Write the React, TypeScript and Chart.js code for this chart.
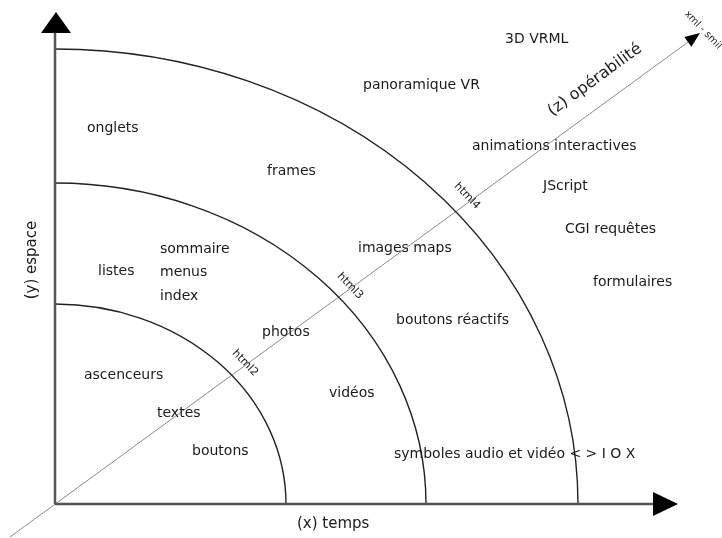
import { useEffect, useRef } from "react";
import { Chart, registerables } from "chart.js";

Chart.register(...registerables);

// Rings (elliptical quarter arcs), in diagram units from the origin
const ringNames = ["html2", "html3", "html4"];
const ringRadiusX = [231, 371, 523];
const ringRadiusY = [200, 321, 455];
const ringLabelX = [190, 295, 412];
const ringLabelY = [141, 218, 308];

// Item labels placed in the (temps, espace) plane
const itemTexts = [
  "onglets", "frames", "sommaire", "menus", "index", "listes", "ascenceurs",
  "photos", "textes", "boutons", "vidéos", "images maps", "boutons réactifs",
  "JScript", "CGI requêtes", "formulaires", "symboles audio et vidéo < > I O X",
  "animations interactives", "3D VRML", "panoramique VR",
];
const itemX = [32, 212, 105, 105, 105, 43, 29, 207, 102, 137, 274, 303, 341, 488, 510, 538, 339, 417, 450, 308];
const itemY = [376, 333, 255, 232, 208, 233, 129, 172, 91, 53, 111, 256, 184, 318, 275, 222, 50, 358, 465, 419];

// Axes
const axisXTitle = "(x) temps";
const axisYTitle = "(y) espace";
const axisZTitle = "(z) opérabilité";
const axisZEndTitle = "xml - smil";
const xAxisEnd = 623;
const yAxisEnd = 492;
const zStart = [-45, -33];
const zEnd = [640, 467];

const FONT = '"DejaVu Sans", sans-serif';

const diagramPlugin = {
  id: "diagram",
  afterDatasetsDraw(chart: any) {
    const ctx = chart.ctx as CanvasRenderingContext2D;
    const xs = chart.scales.x;
    const ys = chart.scales.y;
    const px = (v: number) => xs.getPixelForValue(v);
    const py = (v: number) => ys.getPixelForValue(v);
    const ox = px(0);
    const oy = py(0);
    ctx.save();

    // diagonal z axis
    ctx.strokeStyle = "#8a8a8a";
    ctx.lineWidth = 1;
    ctx.beginPath();
    ctx.moveTo(px(zStart[0]), py(zStart[1]));
    ctx.lineTo(px(zEnd[0]), py(zEnd[1]));
    ctx.stroke();
    // z arrow head
    {
      const tx = px(zEnd[0]) + 5, ty = py(zEnd[1]) - 4;
      const ang = Math.atan2(py(zEnd[1]) - py(zStart[1]), px(zEnd[0]) - px(zStart[0]));
      const L = 15, W = 6;
      const bx = tx - L * Math.cos(ang), by = ty - L * Math.sin(ang);
      ctx.fillStyle = "#000";
      ctx.beginPath();
      ctx.moveTo(tx, ty);
      ctx.lineTo(bx - W * Math.sin(ang), by + W * Math.cos(ang));
      ctx.lineTo(bx + W * Math.sin(ang), by - W * Math.cos(ang));
      ctx.closePath();
      ctx.fill();
    }

    // arcs
    ctx.strokeStyle = "#222";
    ctx.lineWidth = 1.4;
    for (let i = 0; i < ringRadiusX.length; i++) {
      const rx = px(ringRadiusX[i]) - ox;
      const ry = oy - py(ringRadiusY[i]);
      ctx.beginPath();
      ctx.ellipse(ox, oy, rx, ry, 0, -Math.PI / 2, 0);
      ctx.stroke();
    }

    // main axes
    ctx.strokeStyle = "#555";
    ctx.lineWidth = 2.5;
    ctx.beginPath();
    ctx.moveTo(ox, oy);
    ctx.lineTo(px(xAxisEnd) - 20, oy);
    ctx.moveTo(ox, oy);
    ctx.lineTo(ox, py(yAxisEnd) + 18);
    ctx.stroke();

    ctx.fillStyle = "#000";
    // x arrow
    const xt = px(xAxisEnd);
    ctx.beginPath();
    ctx.moveTo(xt, oy);
    ctx.lineTo(xt - 25, oy - 12);
    ctx.lineTo(xt - 25, oy + 12);
    ctx.closePath();
    ctx.fill();
    // y arrow
    const yt = py(yAxisEnd);
    ctx.beginPath();
    ctx.moveTo(ox + 1, yt);
    ctx.lineTo(ox - 14, yt + 21);
    ctx.lineTo(ox + 16, yt + 21);
    ctx.closePath();
    ctx.fill();

    // item labels
    ctx.fillStyle = "#1a1a1a";
    ctx.font = `14px ${FONT}`;
    ctx.textAlign = "left";
    ctx.textBaseline = "middle";
    for (let i = 0; i < itemTexts.length; i++) {
      ctx.fillText(itemTexts[i], px(itemX[i]), py(itemY[i]));
    }

    // x axis title
    ctx.font = `15px ${FONT}`;
    ctx.fillText(axisXTitle, px(242), py(-20));

    // y axis title
    ctx.save();
    ctx.translate(px(-23), py(244));
    ctx.rotate(-Math.PI / 2);
    ctx.textAlign = "center";
    ctx.fillText(axisYTitle, 0, 0);
    ctx.restore();

    // z axis title
    ctx.save();
    ctx.translate(px(540), py(424));
    ctx.rotate((-36 * Math.PI) / 180);
    ctx.textAlign = "center";
    ctx.font = `16px ${FONT}`;
    ctx.fillText(axisZTitle, 0, 0);
    ctx.restore();

    // xml - smil
    ctx.save();
    ctx.translate(px(648), py(474));
    ctx.rotate((46 * Math.PI) / 180);
    ctx.textAlign = "center";
    ctx.font = `10px ${FONT}`;
    ctx.fillText(axisZEndTitle, 0, 0);
    ctx.restore();

    // ring labels
    ctx.font = `11px ${FONT}`;
    for (let i = 0; i < ringNames.length; i++) {
      ctx.save();
      ctx.translate(px(ringLabelX[i]), py(ringLabelY[i]));
      ctx.rotate((46 * Math.PI) / 180);
      ctx.textAlign = "center";
      ctx.fillText(ringNames[i], 0, 0);
      ctx.restore();
    }
    ctx.restore();
  },
};

export default function App() {
  const ref = useRef<HTMLCanvasElement | null>(null);
  useEffect(() => {
    if (!ref.current) return;
    const chart = new Chart(ref.current, {
      type: "scatter",
      data: {
        datasets: [
          {
            label: "items",
            data: itemX.map((x, i) => ({ x, y: itemY[i] })),
            pointRadius: 0,
          },
        ],
      },
      options: {
        animation: false,
        responsive: false,
        maintainAspectRatio: false,
        layout: { padding: 0 },
        events: [],
        plugins: { legend: { display: false }, tooltip: { enabled: false } },
        scales: {
          x: { type: "linear", min: -55, max: 667, display: false },
          y: { type: "linear", min: -34, max: 504, display: false },
        },
      },
      plugins: [diagramPlugin],
    });
    return () => chart.destroy();
  }, []);
  return (
    <div style={{ position: "fixed", left: 0, top: 0, width: 722, height: 538, background: "#fff" }}>
      <canvas ref={ref} width={722} height={538} style={{ display: "block", width: 722, height: 538 }} />
    </div>
  );
}
